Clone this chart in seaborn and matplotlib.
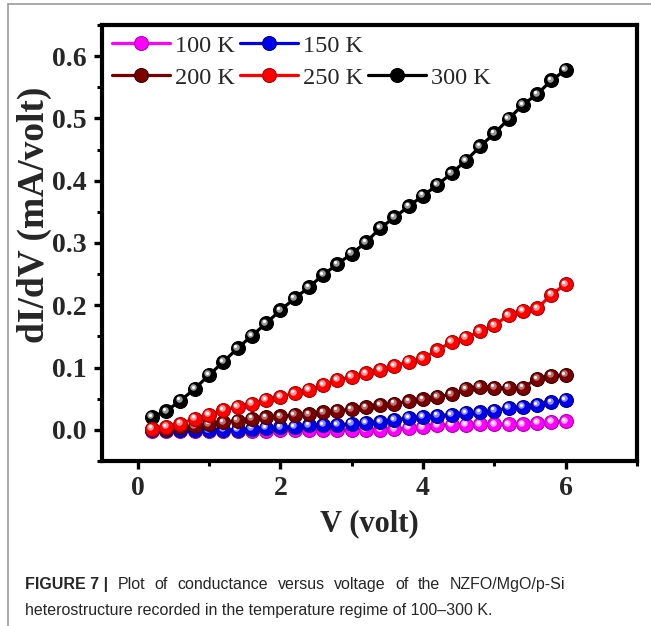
import numpy as np
import pandas as pd
import matplotlib
matplotlib.use("Agg")
import matplotlib.pyplot as plt
import seaborn as sns
from matplotlib.transforms import offset_copy
from matplotlib.lines import Line2D
from matplotlib.ticker import MultipleLocator

# ---- data ----
voltage = [0.2, 0.4, 0.6, 0.8, 1.0, 1.2, 1.4, 1.6, 1.8, 2.0,
           2.2, 2.4, 2.6, 2.8, 3.0, 3.2, 3.4, 3.6, 3.8, 4.0,
           4.2, 4.4, 4.6, 4.8, 5.0, 5.2, 5.4, 5.6, 5.8, 6.0]
g_100K = [-0.002, -0.002, -0.002, -0.002, -0.002, -0.002, -0.002, -0.002, -0.002, -0.001,
          -0.001, 0.000, 0.000, 0.000, 0.000, 0.000, 0.000, 0.001, 0.003, 0.004,
          0.007, 0.008, 0.008, 0.009, 0.009, 0.009, 0.009, 0.011, 0.013, 0.014]
g_150K = [0.000, 0.000, -0.001, -0.001, -0.001, 0.000, 0.000, 0.002, 0.003, 0.004,
          0.005, 0.007, 0.008, 0.008, 0.010, 0.011, 0.013, 0.016, 0.019, 0.021,
          0.023, 0.024, 0.027, 0.028, 0.031, 0.035, 0.037, 0.040, 0.044, 0.048]
g_200K = [0.001, 0.002, 0.004, 0.006, 0.009, 0.012, 0.015, 0.018, 0.020, 0.022,
          0.024, 0.025, 0.028, 0.031, 0.033, 0.036, 0.040, 0.042, 0.046, 0.049,
          0.053, 0.057, 0.066, 0.069, 0.068, 0.068, 0.068, 0.082, 0.087, 0.088]
g_250K = [0.002, 0.005, 0.010, 0.018, 0.024, 0.032, 0.037, 0.042, 0.048, 0.053,
          0.059, 0.064, 0.072, 0.080, 0.085, 0.091, 0.096, 0.103, 0.109, 0.115,
          0.128, 0.141, 0.148, 0.158, 0.168, 0.184, 0.191, 0.195, 0.217, 0.234]
g_300K = [0.021, 0.030, 0.047, 0.066, 0.088, 0.109, 0.131, 0.151, 0.171, 0.192,
          0.211, 0.229, 0.249, 0.266, 0.283, 0.301, 0.324, 0.341, 0.359, 0.376,
          0.393, 0.412, 0.432, 0.455, 0.476, 0.499, 0.522, 0.539, 0.561, 0.578]

labels = ["100 K", "150 K", "200 K", "250 K", "300 K"]
series = [g_100K, g_150K, g_200K, g_250K, g_300K]
colors = ["#ff00ff", "#0000ee", "#7a0000", "#ff0000", "#000000"]
edge_colors = ["#b000b0", "#00008a", "#400000", "#b00000", "#000000"]
light_colors = ["#ffb0ff", "#9090ff", "#c07070", "#ff9a9a", "#9a9a9a"]
zorders = [3, 4, 5, 6, 2]

x_ticks = [0, 2, 4, 6]
y_ticks = [0.0, 0.1, 0.2, 0.3, 0.4, 0.5, 0.6]

caption_bold = "FIGURE 7 |"
caption_line1 = "Plot of conductance versus voltage of the NZFO/MgO/p-Si"
caption_line2 = "heterostructure recorded in the temperature regime of 100\u2013300 K."

# ---- style ----
sns.set_style("ticks")
plt.rcParams["font.family"] = ["Liberation Serif", "DejaVu Serif"]

W, H = 651, 626
fig = plt.figure(figsize=(W / 100, H / 100), dpi=100)
ax = fig.add_axes([102 / W, 1 - 461 / H, (637 - 102) / W, (461 - 25) / H])

handles = {}
for lab, ys, c, ec, lc, z in zip(labels, series, colors, edge_colors, light_colors, zorders):
    df = pd.DataFrame({"V": voltage, "G": ys})
    sns.lineplot(data=df, x="V", y="G", ax=ax, color=c, lw=2.3, marker="o",
                 markersize=10, markeredgecolor=ec, markeredgewidth=0.8,
                 markerfacecolor=c, zorder=z, estimator=None, sort=False)
    handles[lab] = ax.lines[-1]
    # glossy sphere highlight
    off1 = offset_copy(ax.transData, fig=fig, x=-1.6, y=1.6, units="dots")
    sns.scatterplot(data=df, x="V", y="G", ax=ax, color=lc, s=22, linewidth=0,
                    transform=off1, zorder=z + 0.1, legend=False)
    off2 = offset_copy(ax.transData, fig=fig, x=-2.2, y=2.2, units="dots")
    sns.scatterplot(data=df, x="V", y="G", ax=ax, color="white", s=5, linewidth=0,
                    transform=off2, zorder=z + 0.2, legend=False)

ax.set_xlim(-0.5, 7.0)
ax.set_ylim(-0.05, 0.65)
ax.set_xticks(x_ticks)
ax.set_yticks(y_ticks)
ax.set_xticklabels([str(t) for t in x_ticks])
ax.set_yticklabels([f"{t:.1f}" for t in y_ticks])
ax.xaxis.set_minor_locator(MultipleLocator(1))
ax.yaxis.set_minor_locator(MultipleLocator(0.05))

for sp in ax.spines.values():
    sp.set_linewidth(3.0)
    sp.set_color("black")
    sp.set_visible(True)

ax.tick_params(axis="both", which="major", direction="out", length=6, width=2.4,
               labelsize=20, pad=5, color="black")
ax.tick_params(axis="both", which="minor", direction="out", length=3.5, width=2.2,
               color="black")
for t in ax.get_xticklabels() + ax.get_yticklabels():
    t.set_fontweight("bold")

ax.set_xlabel("V (volt)", fontsize=22, fontweight="bold", labelpad=6)
ax.set_ylabel("dI/dV (mA/volt)", fontsize=27, fontweight="bold")
ax.yaxis.set_label_coords(-0.093, 0.565)

blank = Line2D([], [], alpha=0)
order = [handles["100 K"], handles["200 K"], handles["150 K"], handles["250 K"],
         blank, handles["300 K"]]
order_labels = ["100 K", "200 K", "150 K", "250 K", "", "300 K"]
ax.legend(order, order_labels, ncol=3, loc="upper left", bbox_to_anchor=(0.0, 1.0),
          frameon=False, fontsize=17.5, handlelength=2.4, handletextpad=0.2,
          columnspacing=0.2, labelspacing=0.42, borderpad=0.3, borderaxespad=0.1)

# figure border (top and left lines)
fig.add_artist(Line2D([8 / W, 1.0], [1 - 3.5 / H, 1 - 3.5 / H],
                      transform=fig.transFigure, color="#9a9a9a", lw=1.2))
fig.add_artist(Line2D([8 / W, 8 / W], [0.0, 1 - 3.5 / H],
                      transform=fig.transFigure, color="#9a9a9a", lw=1.2))

# caption (first line justified)
cap_font = ["Liberation Sans", "DejaVu Sans"]
cap_size = 11.5
base1, base2 = 589, 615
x_left, x_right = 25, 565
fig.canvas.draw()
renderer = fig.canvas.get_renderer()
tb = fig.text(x_left / W, 1 - base1 / H, caption_bold, fontsize=cap_size,
              fontweight="bold", family=cap_font, ha="left", va="baseline")
bold_w = tb.get_window_extent(renderer).width
word_texts = [fig.text(0, 1 - base1 / H, w, fontsize=cap_size, family=cap_font,
                       ha="left", va="baseline") for w in caption_line1.split()]
widths = [t.get_window_extent(renderer).width for t in word_texts]
pieces_w = [bold_w] + widths
gap = (x_right - x_left - sum(pieces_w)) / (len(pieces_w) - 1)
x = x_left + bold_w + gap
for t, w in zip(word_texts, widths):
    t.set_x(x / W)
    x += w + gap
fig.text(x_left / W, 1 - base2 / H, caption_line2, fontsize=cap_size, family=cap_font,
         ha="left", va="baseline")

fig.savefig("out.png", dpi=100)
